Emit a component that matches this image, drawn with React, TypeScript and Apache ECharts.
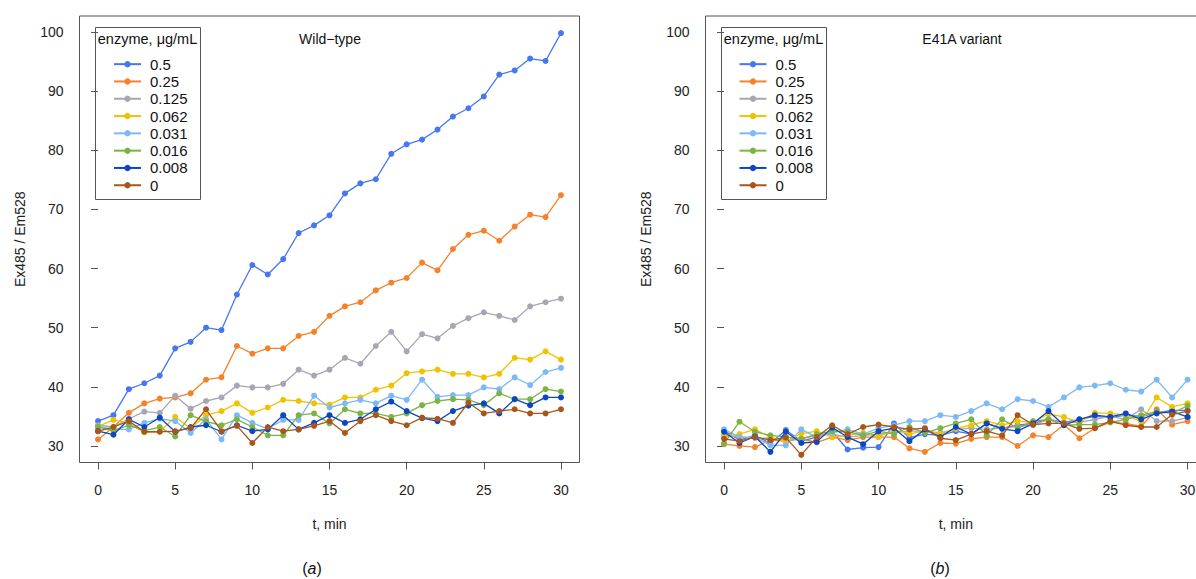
import React, { useEffect, useRef } from "react";
import * as echarts from "echarts";

const times = [0, 1, 2, 3, 4, 5, 6, 7, 8, 9, 10, 11, 12, 13, 14, 15, 16, 17, 18, 19, 20, 21, 22, 23, 24, 25, 26, 27, 28, 29, 30];
const concentrations = ["0.5", "0.25", "0.125", "0.062", "0.031", "0.016", "0.008", "0"];
const colors = ["#4677ee", "#f5822a", "#a6a6b4", "#efc300", "#7db9f5", "#7cb342", "#0c46c2", "#a8561c"];
const xTicks = [0, 5, 10, 15, 20, 25, 30];
const yTicks = [30, 40, 50, 60, 70, 80, 90, 100];

// Wild-type panel
const wt05 = [34.2, 35.2, 39.6, 40.6, 41.9, 46.5, 47.6, 50.0, 49.6, 55.6, 60.6, 59.0, 61.6, 66.0, 67.3, 69.0, 72.7, 74.4, 75.1, 79.4, 81.0, 81.8, 83.5, 85.7, 87.1, 89.1, 92.8, 93.5, 95.5, 95.1, 99.8];
const wt025 = [31.1, 33.2, 35.6, 37.2, 38.0, 38.2, 38.9, 41.2, 41.6, 46.9, 45.6, 46.5, 46.5, 48.6, 49.3, 52.0, 53.6, 54.3, 56.3, 57.6, 58.4, 61.0, 59.7, 63.3, 65.7, 66.4, 64.7, 67.1, 69.1, 68.7, 72.4];
const wt0125 = [33.5, 33.2, 34.6, 35.8, 35.6, 38.5, 36.3, 37.6, 38.2, 40.2, 39.9, 39.9, 40.5, 42.9, 41.9, 42.9, 44.9, 43.9, 46.9, 49.3, 46.0, 48.9, 48.2, 50.3, 51.6, 52.6, 52.0, 51.3, 53.6, 54.3, 54.9];
const wt0062 = [33.3, 34.4, 33.8, 32.3, 32.4, 34.9, 33.0, 35.2, 35.9, 37.2, 35.6, 36.5, 37.8, 37.6, 37.2, 37.0, 38.2, 38.2, 39.5, 40.2, 42.3, 42.6, 42.9, 42.2, 42.2, 41.6, 42.2, 44.9, 44.6, 46.0, 44.6];
const wt0031 = [33.3, 32.8, 32.8, 33.9, 34.6, 34.2, 32.2, 34.5, 31.1, 35.2, 33.9, 32.9, 34.4, 34.4, 38.5, 36.5, 37.2, 37.8, 37.2, 38.5, 37.8, 41.2, 38.3, 38.6, 38.6, 39.9, 39.6, 41.6, 40.3, 42.5, 43.2];
const wt0016 = [33.2, 32.6, 33.5, 32.6, 33.2, 31.6, 35.2, 34.1, 33.5, 34.5, 33.2, 31.8, 31.8, 35.2, 35.5, 33.8, 36.2, 35.5, 35.5, 34.9, 35.5, 36.9, 37.6, 37.9, 37.8, 36.9, 38.9, 37.9, 37.9, 39.6, 39.2];
const wt0008 = [32.5, 31.9, 34.5, 33.2, 34.8, 32.4, 33.2, 33.5, 32.4, 33.5, 32.5, 32.8, 35.2, 32.8, 33.9, 35.2, 33.9, 34.5, 36.2, 37.5, 35.9, 34.7, 34.2, 35.9, 36.8, 37.2, 35.5, 37.9, 36.9, 38.2, 38.2];
const wt0 = [32.5, 33.2, 34.2, 32.4, 32.4, 32.5, 33.0, 36.2, 32.5, 33.4, 30.5, 33.2, 32.5, 32.8, 33.4, 34.2, 32.2, 34.2, 35.2, 34.2, 33.5, 34.8, 34.6, 33.9, 37.3, 35.5, 35.9, 36.2, 35.5, 35.5, 36.2];

// E41A variant panel
const mu05 = [32.6, 31.0, 31.8, 30.4, 32.7, 30.8, 31.5, 32.4, 29.4, 29.7, 29.8, 33.8, 31.4, 32.0, 31.8, 32.5, 32.0, 33.8, 33.0, 33.5, 33.8, 34.5, 34.0, 34.5, 35.0, 34.8, 35.2, 35.0, 35.6, 36.0, 36.0];
const mu025 = [30.3, 30.0, 29.8, 31.0, 30.8, 31.2, 30.6, 31.5, 31.0, 31.5, 31.5, 31.5, 29.6, 29.0, 30.5, 30.4, 31.2, 31.5, 31.5, 30.0, 31.8, 31.5, 33.6, 31.3, 33.0, 34.0, 33.8, 33.3, 36.2, 33.6, 34.2];
const mu0125 = [31.8, 31.5, 31.3, 31.3, 31.0, 31.2, 31.8, 32.0, 31.5, 31.8, 32.0, 32.3, 32.5, 32.5, 32.2, 32.8, 33.0, 32.8, 33.0, 33.3, 33.5, 34.5, 34.0, 34.0, 34.5, 35.0, 34.5, 36.2, 34.2, 34.2, 34.8];
const mu0062 = [31.5, 32.0, 32.8, 31.5, 30.7, 32.1, 32.5, 31.5, 31.8, 32.2, 31.5, 32.8, 32.0, 32.6, 32.0, 33.0, 33.5, 34.2, 33.5, 34.2, 34.0, 35.4, 34.9, 34.0, 35.6, 35.5, 35.2, 34.1, 38.2, 36.6, 37.2];
const mu0031 = [32.8, 31.5, 31.5, 30.1, 30.1, 32.8, 31.5, 32.2, 32.8, 32.0, 33.0, 33.5, 34.2, 34.2, 35.2, 34.9, 35.9, 37.2, 36.2, 37.9, 37.6, 36.6, 38.2, 39.9, 40.2, 40.6, 39.5, 39.2, 41.2, 38.2, 41.2];
const mu0016 = [30.4, 34.1, 32.4, 31.8, 31.5, 31.2, 32.0, 32.5, 32.4, 31.8, 32.5, 32.0, 33.2, 32.2, 33.0, 33.8, 34.5, 31.8, 34.5, 33.0, 34.2, 34.5, 33.5, 33.6, 33.6, 34.0, 34.5, 35.2, 35.8, 35.5, 36.8];
const mu0008 = [32.4, 30.5, 31.6, 29.0, 32.4, 30.5, 30.7, 33.1, 31.5, 30.3, 32.5, 33.0, 30.8, 32.8, 31.5, 33.2, 32.0, 33.8, 32.9, 32.5, 33.8, 35.9, 33.5, 34.5, 35.2, 34.9, 35.5, 34.5, 35.5, 35.8, 34.9];
const mu0 = [31.2, 30.8, 31.5, 31.0, 31.4, 28.5, 31.5, 33.5, 32.0, 33.2, 33.6, 33.2, 32.8, 33.0, 31.3, 31.0, 32.0, 32.5, 31.8, 35.2, 33.6, 33.8, 33.8, 32.9, 33.0, 34.2, 33.5, 33.2, 33.2, 35.3, 35.9];

const wildType = [wt05, wt025, wt0125, wt0062, wt0031, wt0016, wt0008, wt0];
const variant = [mu05, mu025, mu0125, mu0062, mu0031, mu0016, mu0008, mu0];

const FONT = '"Liberation Sans", Arial, Helvetica, sans-serif';

function makeX(gridIndex: number) {
  return {
    type: "value",
    gridIndex,
    min: -1.2,
    max: 31.2,
    name: "t, min",
    nameLocation: "middle",
    nameGap: 54,
    nameTextStyle: { fontFamily: FONT, fontSize: 14, color: "#222" },
    axisLine: { show: false },
    axisTick: { show: true, length: 7, customValues: xTicks, lineStyle: { color: "#555" } },
    axisLabel: { customValues: xTicks, fontFamily: FONT, fontSize: 14, color: "#222", margin: 20, hideOverlap: false },
    splitLine: { show: false },
  };
}

function makeY(gridIndex: number) {
  return {
    type: "value",
    gridIndex,
    min: 27.2,
    max: 102.7,
    name: "Ex485 / Em528",
    nameLocation: "middle",
    nameRotate: 90,
    nameGap: 53,
    nameTextStyle: { fontFamily: FONT, fontSize: 14, color: "#222" },
    axisLine: { show: false },
    axisTick: { show: true, length: 7, customValues: yTicks, lineStyle: { color: "#555" } },
    axisLabel: { customValues: yTicks, fontFamily: FONT, fontSize: 14, color: "#222", margin: 16 },
    splitLine: { show: false },
  };
}

function makeSeries(panel: number[][], axisIndex: number) {
  return panel.map((vals, i) => ({
    name: concentrations[i],
    type: "line",
    xAxisIndex: axisIndex,
    yAxisIndex: axisIndex,
    data: times.map((t, j) => [t, vals[j]]),
    symbol: "circle",
    symbolSize: 6,
    color: colors[i],
    lineStyle: { width: 1.3, color: colors[i] },
    itemStyle: { color: colors[i] },
    emphasis: { disabled: true },
    z: 2 + i,
  }));
}

function makeLegend(left: number) {
  return {
    data: concentrations,
    orient: "vertical",
    left,
    top: 50.5,
    itemWidth: 27,
    itemHeight: 8,
    itemGap: 0,
    selectedMode: false,
    textStyle: { fontFamily: FONT, fontSize: 15, color: "#111", lineHeight: 17.3, padding: [0, 0, 0, 4] },
  };
}

export default function App() {
  const ref = useRef<HTMLDivElement>(null);
  useEffect(() => {
    if (!ref.current) return;
    const chart = echarts.init(ref.current, null, { renderer: "svg" });
    chart.setOption({
      animation: false,
      backgroundColor: "#ffffff",
      textStyle: { fontFamily: FONT },
      grid: [
        { left: 79.5, top: 16, width: 500, height: 446.5, show: true, borderColor: "#555", borderWidth: 1, containLabel: false, outerBoundsMode: "none" },
        { left: 705.5, top: 16, width: 500.6, height: 446.5, show: true, borderColor: "#555", borderWidth: 1, containLabel: false, outerBoundsMode: "none" },
      ],
      xAxis: [makeX(0), makeX(1)],
      yAxis: [makeY(0), makeY(1)],
      legend: [makeLegend(108), makeLegend(733.5)],
      series: [...makeSeries(wildType, 0), ...makeSeries(variant, 1)],
      graphic: [
        { type: "rect", shape: { x: 95.5, y: 27.5, width: 105, height: 172 }, style: { fill: "#fff", stroke: "#555", lineWidth: 1 }, z: 0 },
        { type: "rect", shape: { x: 721.5, y: 27.5, width: 105, height: 172 }, style: { fill: "#fff", stroke: "#555", lineWidth: 1 }, z: 0 },
        { type: "text", x: 147.5, y: 38.5, style: { text: "enzyme, μg/mL", font: `14.5px ${FONT}`, fill: "#111", align: "center", verticalAlign: "middle" }, z: 10 },
        { type: "text", x: 773.5, y: 38.5, style: { text: "enzyme, μg/mL", font: `14.5px ${FONT}`, fill: "#111", align: "center", verticalAlign: "middle" }, z: 10 },
        { type: "text", x: 330, y: 39, style: { text: "Wild\u2212type", font: `14px ${FONT}`, fill: "#111", align: "center", verticalAlign: "middle" }, z: 10 },
        { type: "text", x: 962, y: 39, style: { text: "E41A variant", font: `14px ${FONT}`, fill: "#111", align: "center", verticalAlign: "middle" }, z: 10 },
        {
          type: "text", x: 312, y: 568,
          style: { text: "({i|a})", font: `16px ${FONT}`, fill: "#111", align: "center", verticalAlign: "middle", rich: { i: { fontStyle: "italic", fontSize: 16, fontFamily: FONT } } },
        },
        {
          type: "text", x: 940, y: 568,
          style: { text: "({i|b})", font: `16px ${FONT}`, fill: "#111", align: "center", verticalAlign: "middle", rich: { i: { fontStyle: "italic", fontSize: 16, fontFamily: FONT } } },
        },
      ],
    });
    return () => chart.dispose();
  }, []);
  return <div ref={ref} style={{ position: "absolute", left: 0, top: 0, width: 1196, height: 579 }} />;
}
